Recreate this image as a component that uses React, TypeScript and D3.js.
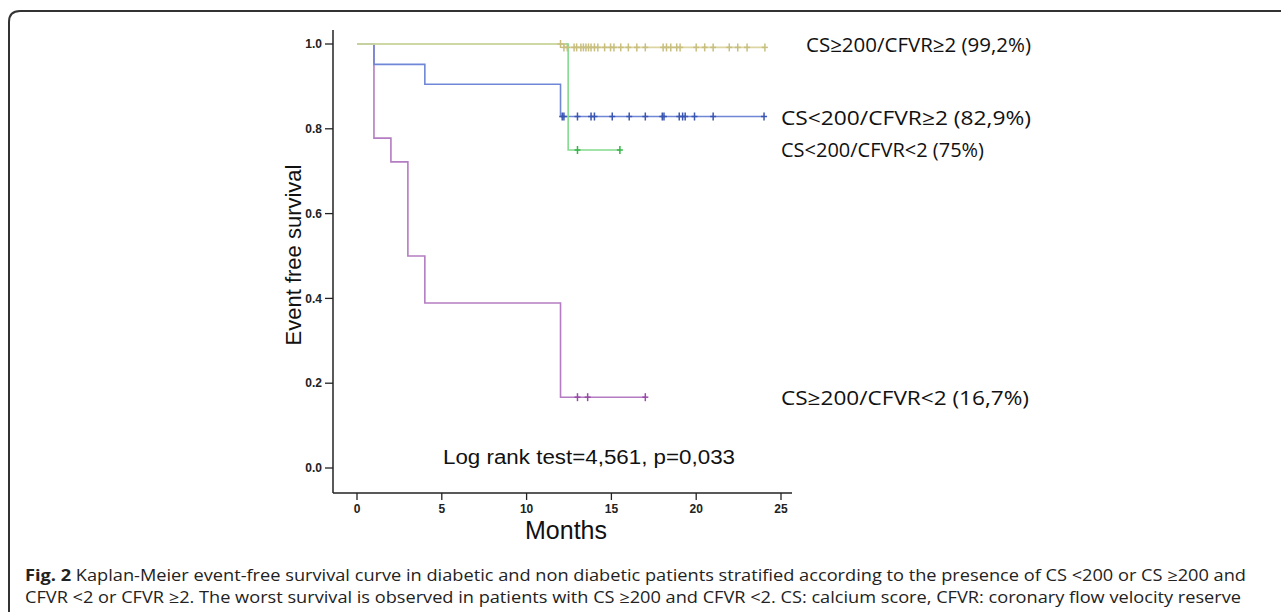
import React from "react";
import * as d3 from "d3";

// ---- data ----
const xTicks = [0, 5, 10, 15, 20, 25];
const yTicks = [0, 0.2, 0.4, 0.6, 0.8, 1.0];

const purpleTimes = [0, 1, 2, 3, 4, 12];
const purpleSurv = [1, 0.778, 0.722, 0.5, 0.389, 0.167];
const purpleEnd = 17;
const purpleCensor = [13, 13.6, 17];

const blueTimes = [0, 1, 4, 12];
const blueSurv = [1, 0.952, 0.905, 0.829];
const blueEnd = 24;
const blueCensor = [12.1, 12.2, 13, 13.8, 14, 15.05, 16.05, 17, 18, 18.1, 19, 19.2, 19.35, 19.9, 21, 24];

const greenTimes = [0, 12.45];
const greenSurv = [1, 0.75];
const greenEnd = 15.5;
const greenCensor = [13, 15.5];

const yellowTimes = [0, 12.2];
const yellowSurv = [1, 0.992];
const yellowEnd = 24;
const yellowCensor = [12.0, 12.2, 12.4, 12.8, 12.95, 13.2, 13.35, 13.5, 13.65, 13.8, 14.0, 14.2, 14.6, 14.95, 15.15, 15.55, 16.0, 16.5, 17.0, 18.05, 18.25, 18.5, 18.85, 19.05, 20.0, 20.5, 21.0, 21.95, 22.45, 23.0, 24.05];

const labels = ["CS≥200/CFVR≥2 (99,2%)", "CS<200/CFVR≥2 (82,9%)", "CS<200/CFVR<2 (75%)", "CS≥200/CFVR<2 (16,7%)"];
const logRankText = "Log rank test=4,561, p=0,033";
const yLabel = "Event free survival";
const xLabel = "Months";
const captionBold = "Fig. 2";
const captionLine1 = " Kaplan-Meier event-free survival curve in diabetic and non diabetic patients stratified according to the presence of CS <200 or CS ≥200 and";
const captionLine2 = "CFVR <2 or CFVR ≥2. The worst survival is observed in patients with CS ≥200 and CFVR <2. CS: calcium score, CFVR: coronary flow velocity reserve";

export default function App() {
  const x = d3.scaleLinear().domain([0, 25]).range([357, 781]);
  const y = d3.scaleLinear().domain([0, 1]).range([468, 44]);

  const series = [
    { times: purpleTimes, surv: purpleSurv, end: purpleEnd, censor: purpleCensor, line: "#b47cc2", mark: "#9a4aa8" },
    { times: blueTimes, surv: blueSurv, end: blueEnd, censor: blueCensor, line: "#6f87d6", mark: "#3a55b2" },
    { times: greenTimes, surv: greenSurv, end: greenEnd, censor: greenCensor, line: "#84da8e", mark: "#36b449" },
    { times: yellowTimes, surv: yellowSurv, end: yellowEnd, censor: yellowCensor, line: "#dcd5a2", mark: "#c8be7e" },
  ];

  const lineGen = d3
    .line<[number, number]>()
    .x((d) => x(d[0]))
    .y((d) => y(d[1]))
    .curve(d3.curveStepAfter);

  const survAt = (s: any, t: number) => {
    let v = s.surv[0];
    for (let i = 0; i < s.times.length; i++) if (s.times[i] <= t) v = s.surv[i];
    return v;
  };

  const labelFont = "'Open Sans', 'Liberation Sans', sans-serif";
  const axisFont = "'Liberation Sans', Arial, sans-serif";

  return (
    <svg
      width={1281}
      height={612}
      style={{ position: "absolute", left: 0, top: 0, background: "#fff" }}
    >
      <rect x={0} y={0} width={1281} height={612} fill="#fff" />
      {/* frame */}
      <path d="M9,640 L9,22 Q9,11 20,11 L1300,11" fill="none" stroke="#333" strokeWidth={2} />

      {/* axes */}
      <line x1={333} y1={30} x2={333} y2={493} stroke="#222" strokeWidth={1.5} />
      <line x1={333} y1={493} x2={792} y2={493} stroke="#222" strokeWidth={1.5} />
      {yTicks.map((t) => (
        <g key={"y" + t}>
          <line x1={325} x2={333} y1={y(t)} y2={y(t)} stroke="#222" strokeWidth={1.3} />
          <text x={322} y={y(t)} dy="0.35em" textAnchor="end" fontFamily={axisFont} fontSize={12} fontWeight="bold" fill="#222">
            {t.toFixed(1)}
          </text>
        </g>
      ))}
      {xTicks.map((t) => (
        <g key={"x" + t}>
          <line x1={x(t)} x2={x(t)} y1={493} y2={500} stroke="#222" strokeWidth={1.3} />
          <text x={x(t)} y={509} dy="0.35em" textAnchor="middle" fontFamily={axisFont} fontSize={12} fontWeight="bold" fill="#222">
            {t}
          </text>
        </g>
      ))}

      {/* curves */}
      {series.map((s, i) => {
        const pts: [number, number][] = s.times.map((t: number, j: number) => [t, s.surv[j]] as [number, number]);
        pts.push([s.end, s.surv[s.surv.length - 1]]);
        return (
          <g key={"s" + i}>
            <path d={lineGen(pts) || ""} fill="none" stroke={s.line} strokeWidth={1.6} />
            {s.censor.map((c: number, k: number) => {
              const cx = x(c);
              const cy = y(survAt(s, c));
              return (
                <g key={k} stroke={s.mark} strokeWidth={1.5}>
                  <line x1={cx} x2={cx} y1={cy - 4} y2={cy + 4} />
                  <line x1={cx - 3} x2={cx + 3} y1={cy} y2={cy} />
                </g>
              );
            })}
          </g>
        );
      })}

      {/* labels */}
      <text x={806} y={45} dy="0.35em" fontFamily={labelFont} fontSize={20} fill="#111" textLength={225} lengthAdjust="spacingAndGlyphs">{labels[0]}</text>
      <text x={781} y={118} dy="0.35em" fontFamily={labelFont} fontSize={20} fill="#111" textLength={250} lengthAdjust="spacingAndGlyphs">{labels[1]}</text>
      <text x={781} y={150} dy="0.35em" fontFamily={labelFont} fontSize={20} fill="#111" textLength={203} lengthAdjust="spacingAndGlyphs">{labels[2]}</text>
      <text x={781} y={398} dy="0.35em" fontFamily={labelFont} fontSize={20} fill="#111" textLength={248} lengthAdjust="spacingAndGlyphs">{labels[3]}</text>

      <text x={443} y={457} dy="0.35em" fontFamily={axisFont} fontSize={20} fill="#111" textLength={292} lengthAdjust="spacingAndGlyphs">{logRankText}</text>

      <text transform="translate(293,255) rotate(-90)" textAnchor="middle" dy="0.35em" fontFamily={axisFont} fontSize={22} fill="#111">
        {yLabel}
      </text>
      <text x={566} y={530} dy="0.35em" textAnchor="middle" fontFamily={axisFont} fontSize={25} fill="#111">
        {xLabel}
      </text>

      {/* caption */}
      <text x={25} y={581} fontFamily={labelFont} fontSize={16} fill="#222" textLength={1221} lengthAdjust="spacingAndGlyphs">
        <tspan fontWeight="bold">{captionBold}</tspan>
        <tspan>{captionLine1}</tspan>
      </text>
      <text x={25} y={603} fontFamily={labelFont} fontSize={16} fill="#222" textLength={1216} lengthAdjust="spacingAndGlyphs">
        {captionLine2}
      </text>
    </svg>
  );
}
